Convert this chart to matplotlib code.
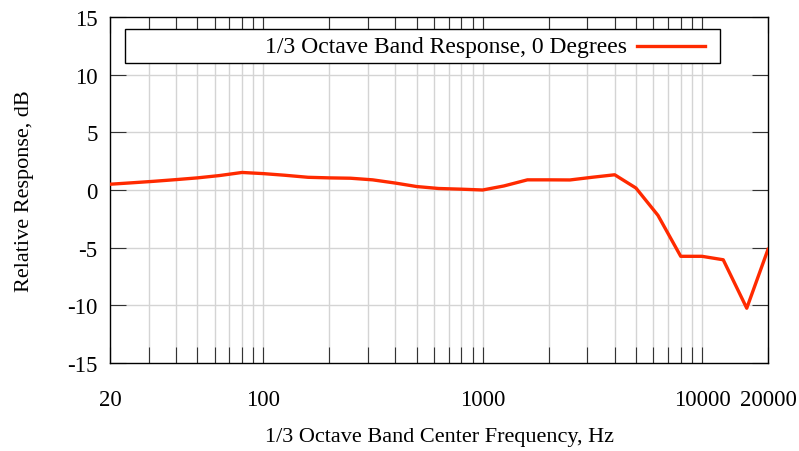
import matplotlib
matplotlib.use("Agg")
from matplotlib import pyplot as plt
from matplotlib.patches import Rectangle
from matplotlib.ticker import FixedLocator, NullFormatter

# 1/3 octave band centres and relative response
freqs = [20, 25, 31.5, 40, 50, 63, 80, 100, 125, 160, 200, 250, 315, 400, 500,
         630, 800, 1000, 1250, 1600, 2000, 2500, 3150, 4000, 5000, 6300, 8000,
         10000, 12500, 16000, 20000]
response = [0.5, 0.62, 0.75, 0.9, 1.05, 1.25, 1.52, 1.42, 1.28, 1.1, 1.05, 1.02,
            0.88, 0.6, 0.3, 0.13, 0.07, 0.0, 0.35, 0.88, 0.88, 0.87, 1.1, 1.32,
            0.17, -2.2, -5.75, -5.75, -6.05, -10.25, -5.15]
series_label = '1/3 Octave Band Response, 0 Degrees'

major_ticks = [20, 100, 1000, 10000, 20000]
tick_labels = ["20", "100", "1000", "10000", "20000"]
minor_ticks = [30, 40, 50, 60, 70, 80, 90,
               200, 300, 400, 500, 600, 700, 800, 900,
               2000, 3000, 4000, 5000, 6000, 7000, 8000, 9000]
y_ticks = [-15, -10, -5, 0, 5, 10, 15]

plt.rcParams['font.family'] = ['Liberation Serif', 'DejaVu Serif']
plt.rcParams['font.size'] = 16.5
plt.rcParams['axes.unicode_minus'] = False

line_color = '#ff2a00'

fig = plt.figure(figsize=(7.99, 4.52), dpi=100)
ax = fig.add_axes([0.1377, 0.1947, 0.8235, 0.7655])

ax.set_xscale('log')
ax.set_xlim(20, 20000)
ax.set_ylim(-15, 15)

# grid lines (gnuplot-ish): all vertical minor/major, horizontal at major y
for f in minor_ticks + major_ticks[1:-1]:
    ax.axvline(f, color='#d4d4d4', lw=1.0, zorder=0)
for yv in y_ticks[1:-1]:
    ax.axhline(yv, color='#d4d4d4', lw=1.0, zorder=0)

ax.plot(freqs, response, color=line_color, lw=2.4, zorder=3)

ax.xaxis.set_major_locator(FixedLocator(major_ticks))
ax.set_xticklabels(tick_labels)
ax.xaxis.set_minor_locator(FixedLocator(minor_ticks))
ax.xaxis.set_minor_formatter(NullFormatter())
ax.set_yticks(y_ticks)

ax.tick_params(axis='both', which='both', direction='in', length=11.5,
               width=0.8, color='#333333', top=True, right=True)
ax.tick_params(axis='x', which='major', pad=19)
ax.tick_params(axis='y', which='major', pad=9)

for s in ax.spines.values():
    s.set_linewidth(1.0)
    s.set_color('black')

ax.set_xlabel('1/3 Octave Band Center Frequency, Hz', fontsize=16, labelpad=12)
ax.set_ylabel('Relative Response, dB', fontsize=16, labelpad=24)

# gnuplot-style key: boxed, text right-aligned, sample line on the right
ax.add_patch(Rectangle((0.0228, 0.867), 0.904, 0.098, transform=ax.transAxes,
                       facecolor='white', edgecolor='black', lw=1.0, zorder=5))
ax.text(0.786, 0.916, series_label, transform=ax.transAxes, ha='right',
        va='center', fontsize=17, zorder=6)
ax.plot([0.801, 0.904], [0.916, 0.916], transform=ax.transAxes,
        color=line_color, lw=2.4, zorder=6)

fig.savefig('out.png', dpi=100)
